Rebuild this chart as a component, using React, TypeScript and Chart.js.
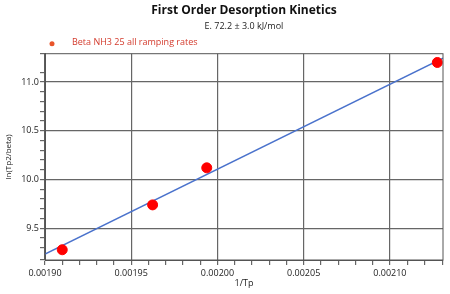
import React, { useEffect, useRef } from "react";
import { Chart, registerables } from "chart.js";

Chart.register(...registerables);

const seriesLabel = "Beta NH3 25 all ramping rates";
const xValues = [0.00191, 0.0019624, 0.0019938, 0.0021275];
const yValues = [9.28, 9.74, 10.12, 11.2];
const fitX = [0.0019, 0.0021308];
const fitY = [9.235, 11.245];
const titleText = "First Order Desorption Kinetics";
const subtitleText = "E. 72.2 ± 3.0 kJ/mol";
const xTitle = "1/Tp";
const yTitle = "ln(Tp2/beta)";

const FONT = "'Open Sans', 'DejaVu Sans', sans-serif";

const isMult = (v: number, step: number) => {
  const r = v / step;
  return Math.abs(r - Math.round(r)) < 1e-6;
};

const framePlugin = {
  id: "frame",
  afterDraw(chart: any) {
    const { ctx, chartArea } = chart;
    ctx.save();
    ctx.strokeStyle = "#555555";
    ctx.lineWidth = 1;
    ctx.strokeRect(chartArea.left, chartArea.top, chartArea.right - chartArea.left, chartArea.bottom - chartArea.top);
    // legend (text taken from the dataset label)
    const ds = chart.data.datasets[0];
    const ly = chartArea.top - 11;
    ctx.fillStyle = "#e8542a";
    ctx.beginPath();
    ctx.arc(chartArea.left + 7, ly + 1, 2.5, 0, Math.PI * 2);
    ctx.fill();
    ctx.fillStyle = "#d33a2c";
    ctx.font = `9px ${FONT}`;
    ctx.textBaseline = "middle";
    ctx.textAlign = "left";
    ctx.fillText(ds.label, chartArea.left + 27, ly);
    ctx.restore();
  },
};

export default function App() {
  const ref = useRef<HTMLCanvasElement>(null);
  useEffect(() => {
    document.body.style.margin = "0";
    const chart = new Chart(ref.current!, {
      type: "scatter",
      data: {
        datasets: [
          {
            label: seriesLabel,
            data: xValues.map((x, i) => ({ x, y: yValues[i] })),
            backgroundColor: "#ff0000",
            borderColor: "#ff0000",
            pointRadius: 5,
            pointHoverRadius: 5,
            order: 1,
          },
          {
            label: "fit",
            type: "line",
            data: fitX.map((x, i) => ({ x, y: fitY[i] })),
            borderColor: "#4a72cc",
            borderWidth: 1.5,
            pointRadius: 0,
            showLine: true,
            fill: false,
            order: 2,
          } as any,
        ],
      },
      options: {
        animation: false,
        responsive: false,
        layout: { padding: { left: 4, right: 7, top: 0, bottom: 1 } },
        plugins: {
          title: {
            display: true,
            fullSize: false,
            text: titleText,
            color: "#111111",
            font: { family: FONT, size: 12, weight: "bold" },
            padding: { top: 3, bottom: 2 },
          },
          subtitle: {
            display: true,
            fullSize: false,
            text: subtitleText,
            color: "#222222",
            font: { family: FONT, size: 9 },
            padding: { top: 2, bottom: 21.5 },
          },
          legend: { display: false },
          tooltip: { enabled: false },
        },
        scales: {
          x: {
            type: "linear",
            min: 0.0019,
            max: 0.0021308,
            afterFit: (s: any) => {
              s.height = 33;
            },
            title: { display: true, text: xTitle, color: "#222222", font: { family: FONT, size: 9 }, padding: { top: 0, bottom: 4 } },
            ticks: {
              stepSize: 0.00001,
              autoSkip: false,
              maxRotation: 0,
              color: "#222222",
              font: { family: FONT, size: 9 },
              padding: 3,
              callback: (v: any) => (isMult(Number(v), 0.00005) ? Number(v).toFixed(5) : ""),
            },
            grid: {
              color: (c: any) => (c.tick && isMult(c.tick.value, 0.00005) ? "#666666" : "rgba(0,0,0,0)"),
              tickColor: "#666666",
              tickLength: 5,
              lineWidth: 1.2,
            },
            border: { color: "#555555" },
          },
          y: {
            type: "linear",
            min: 9.175,
            max: 11.29,
            afterFit: (s: any) => {
              s.width = 41;
            },
            title: { display: true, text: yTitle, color: "#222222", font: { family: FONT, size: 8 }, padding: { top: 0, bottom: 2 } },
            ticks: {
              stepSize: 0.1,
              autoSkip: false,
              color: "#222222",
              font: { family: FONT, size: 9 },
              padding: 1,
              callback: (v: any) => (isMult(Number(v), 0.5) ? Number(v).toFixed(1) : ""),
            },
            grid: {
              color: (c: any) => (c.tick && isMult(c.tick.value, 0.5) ? "#666666" : "rgba(0,0,0,0)"),
              tickColor: "#666666",
              tickLength: 5,
              lineWidth: 1.2,
            },
            border: { color: "#555555" },
          },
        },
      },
      plugins: [framePlugin],
    });
    return () => chart.destroy();
  }, []);
  return <canvas ref={ref} width={450} height={294} style={{ display: "block", width: 450, height: 294 }} />;
}
